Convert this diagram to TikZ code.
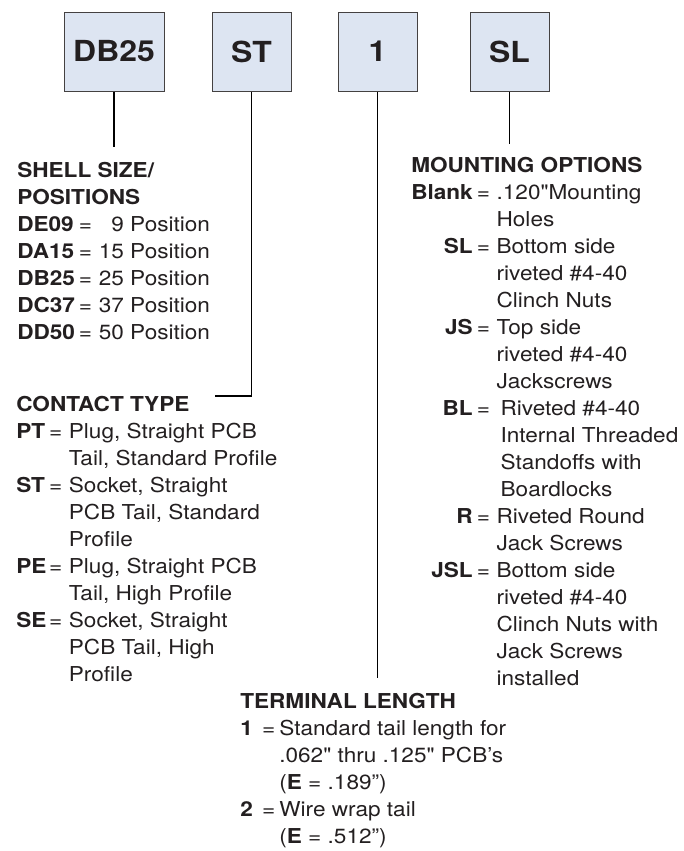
\documentclass[tikz,border=0pt]{standalone}
\usepackage{fontspec}
\setmainfont[FakeStretch=1.1]{TeX Gyre Heros}
\newfontfamily\plainquote[FakeStretch=1.1]{TeX Gyre Heros}
\usepackage{xcolor}
\usepackage{tikz}
\definecolor{boxfill}{RGB}{221,229,242}
\definecolor{ink}{RGB}{35,31,32}
\newcommand{\bodyfont}{\fontsize{15.4pt}{20.25pt}\selectfont}
\newcommand{\codefont}{\fontsize{21.75pt}{26pt}\selectfont\bfseries}
\newcommand{\inch}{{\plainquote"}}

\begin{document}
\begin{tikzpicture}[x=0.75pt,y=0.75pt,yscale=-1,xscale=1,
  codebox/.style={draw=ink!85, fill=boxfill, line width=0.75pt, minimum width=59.25pt, minimum height=59.25pt, inner sep=0pt, font=\codefont, text=ink},
  legend/.style={anchor=base west, inner sep=0pt, font=\bodyfont, text=ink},
  leader/.style={draw=black, line width=1.3pt}]
\path [use as bounding box] (0,0) rectangle (683,851); %page 683 x 851

%Shape: Rectangle [DB25]
\draw (114,51.5) node (shellbox) [codebox, minimum width=75pt] {DB25};
%Shape: Rectangle [ST]
\draw (251.5,51.5) node (contactbox) [codebox] {ST};
%Shape: Rectangle [1]
\draw (377.5,51.5) node (termbox) [codebox] {1};
%Shape: Rectangle [SL]
\draw (509.5,51.5) node (mountbox) [codebox] {SL};

% free ends of the leaders
\coordinate (shellend) at (114,147);
\coordinate (contactend) at (215,396);
\coordinate (termend) at (377.5,678);
\coordinate (mountend) at (509.5,144);

%Straight Lines
\draw [leader] (shellbox.south) -- (shellend);
%Straight Lines
\draw [leader] (contactbox.south) |- (contactend);
%Straight Lines
\draw [leader] (termbox.south) -- (termend);
%Straight Lines
\draw [leader] (mountbox.south) -- (mountend);

% Text Node
\draw (17,177) node (shelltxt) [legend] {\begin{tabular}[t]{@{}l@{\hspace{3pt}}l@{\hspace{5pt}}l@{}}
\multicolumn{3}{@{}l@{}}{\bfseries SHELL SIZE/}\\
\multicolumn{3}{@{}l@{}}{\bfseries POSITIONS}\\
\textbf{DE09} & = & \phantom{1}9 Position\\
\textbf{DA15} & = & 15 Position\\
\textbf{DB25} & = & 25 Position\\
\textbf{DC37} & = & 37 Position\\
\textbf{DD50} & = & 50 Position
\end{tabular}};
% Text Node
\draw (16,411) node (contacttxt) [legend] {\begin{tabular}[t]{@{}l@{\hspace{2pt}}l@{\hspace{5pt}}l@{}}
\multicolumn{3}{@{}l@{}}{\bfseries CONTACT TYPE}\\
\textbf{PT} & = & Plug, Straight PCB\\
 & & Tail, Standard Profile\\
\textbf{ST} & = & Socket, Straight\\
 & & PCB Tail, Standard\\
 & & Profile\\
\textbf{PE} & = & Plug, Straight PCB\\
 & & Tail, High Profile\\
\textbf{SE} & = & Socket, Straight\\
 & & PCB Tail, High\\
 & & Profile
\end{tabular}};
% Text Node
\draw (411,172) node (mounttxt) [legend] {\begin{tabular}[t]{@{}r@{\hspace{3pt}}l@{\hspace{5pt}}l@{}}
\multicolumn{3}{@{}l@{}}{\bfseries MOUNTING OPTIONS}\\
\textbf{Blank} & = & .120\inch Mounting\\
 & & Holes\\
\textbf{SL} & = & Bottom side\\
 & & riveted \#4-40\\
 & & Clinch Nuts\\
\textbf{JS} & = & Top side\\
 & & riveted \#4-40\\
 & & Jackscrews\\
\textbf{BL} & = & \hspace{3pt}Riveted \#4-40\\
 & & \hspace{3pt}Internal Threaded\\
 & & \hspace{3pt}Standoffs with\\
 & & \hspace{3pt}Boardlocks\\
\textbf{R} & = & Riveted Round\\
 & & Jack Screws\\
\textbf{JSL} & = & Bottom side\\
 & & riveted \#4-40\\
 & & Clinch Nuts with\\
 & & Jack Screws\\
 & & installed
\end{tabular}};
% Text Node
\draw (240,708) node (termtxt) [legend] {\begin{tabular}[t]{@{}l@{\hspace{7pt}}l@{\hspace{3pt}}l@{}}
\multicolumn{3}{@{}l@{}}{\bfseries TERMINAL LENGTH}\\
\textbf{1} & = & Standard tail length for\\
 & & .062\inch{} thru .125\inch{} PCB’s\\
 & & (\textbf{E} = .189”)\\
\textbf{2} & = & Wire wrap tail\\
 & & (\textbf{E} = .512”)
\end{tabular}};

\end{tikzpicture}
\end{document}
